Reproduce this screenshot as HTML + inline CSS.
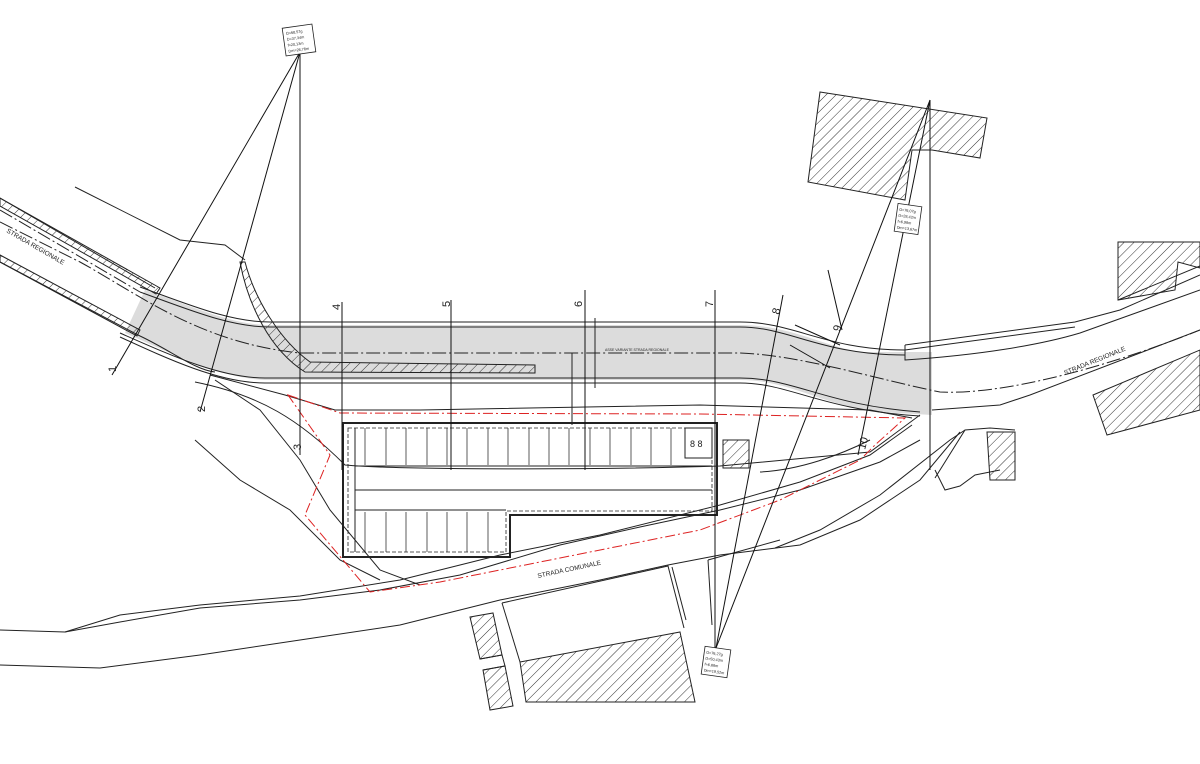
<!DOCTYPE html>
<html><head><meta charset="utf-8"><style>
html,body{margin:0;padding:0;background:#fff;}
svg{display:block;}
text{font-family:"Liberation Sans",sans-serif;fill:#222;}
</style></head><body>
<svg width="1200" height="764" viewBox="0 0 1200 764" xmlns="http://www.w3.org/2000/svg">
<defs>
<pattern id="h" patternUnits="userSpaceOnUse" width="7" height="7" patternTransform="rotate(45)">
<line x1="0" y1="0" x2="0" y2="7" stroke="#333" stroke-width="1"/>
</pattern>
</defs>
<rect width="1200" height="764" fill="#fff"/>

<path d="M145,290 C190,305 230,325 270,325 L740,325 C790,325 820,345 860,352 L932,352 L932,415 L880,412 C820,405 790,380 740,380 L265,380 C220,378 175,355 125,333 Z" fill="#dcdcdc" stroke="none"/>
<g fill="none" stroke="#222" stroke-width="1">
<path d="M140,287 C190,305 230,322 270,322 L740,322 C795,322 825,350 905,350"/>
<path d="M140,292 C190,310 230,327 270,327 L740,327 C790,327 820,355 905,355"/>
<path d="M120,333 C170,355 220,378 265,378 L740,378 C795,378 825,405 920,412"/>
<path d="M120,337 C170,360 220,383 265,383 L740,383 C790,383 820,410 920,416"/>
<path d="M0,210 L140,292" stroke-dasharray="14,3,2,3"/>
<path d="M0,222 L80,262 C140,295 200,343 300,353 L740,353 C800,355 880,380 940,392 C1000,395 1100,370 1200,330" stroke-dasharray="14,3,2,3"/>
<line x1="572" y1="353" x2="572" y2="425"/>
<line x1="595" y1="318" x2="595" y2="388"/>
<path d="M75,187 L180,240 L225,245 L245,260"/>
<path d="M0,198 L155,288"/>
<path d="M0,262 L140,336 C170,350 195,370 215,372"/>
<path d="M210,375 L285,395 L335,410 L420,410 L700,405 L870,410 L912,418"/>
<path d="M215,380 L260,410 L300,460 L330,510 L380,570 L420,585"/>
<path d="M195,440 L240,480 L290,510 L340,560 L380,580"/>
<path d="M195,382 C260,395 300,420 345,465 C400,470 600,470 720,466 L870,452 L920,415"/>
<path d="M760,472 C800,470 840,455 870,440"/>
<path d="M905,345 L1075,322 L1120,310 L1200,275"/>
<path d="M905,350 L1075,327"/>
<path d="M905,345 L905,360 C980,355 1040,345 1080,333 L1200,290"/>
<path d="M1118,300 L1200,266"/>
<path d="M932,410 L1000,405 L1030,395 L1200,330"/>
<path d="M935,478 L965,430 L990,428 L1015,430"/>
<path d="M935,470 L945,490 L960,486 L975,475 L1000,470"/>
<path d="M0,630 L65,632 L120,622 L200,608 L300,600 L380,590 L460,575 L560,545 L640,527 L720,510 L800,490 L880,462 L920,440"/>
<path d="M65,632 L120,615 L200,605 L300,596 L400,580 L500,555 L600,535 L720,505 L800,482 L870,455 L912,425"/>
<path d="M0,665 L100,668 L200,655 L300,640 L400,625 L500,600 L600,580 L668,565 L720,555 L800,545 L860,520 L920,480 L960,432"/>
<path d="M775,548 L820,530 L880,495 L950,440 L965,430"/>
<path d="M708,560 L712,625"/>
<path d="M708,560 L780,540"/>
</g>

<path d="M0,198 L160,288 L156,294 L0,206 Z" fill="url(#h)" stroke="#222" stroke-width="1"/>
<path d="M0,255 L140,330 L137,336 L0,262 Z" fill="url(#h)" stroke="#222" stroke-width="1"/>
<path d="M245,262 C255,300 280,340 310,362 L535,365 L535,373 L305,372 C270,350 248,305 240,262 Z" fill="url(#h)" stroke="#222" stroke-width="1"/>

<g fill="url(#h)" stroke="#222" stroke-width="1">
<path d="M820,92 L987,118 L980,158 L932,150 L912,150 L905,200 L808,182 Z"/>
<path d="M1118,242 L1200,242 L1200,268 L1178,262 L1175,290 L1118,300 Z"/>
<path d="M1093,395 L1200,350 L1200,410 L1107,435 Z"/>
<path d="M987,432 L1015,432 L1015,480 L990,480 Z"/>
<path d="M470,617 L493,613 L502,655 L480,659 Z"/>
<path d="M483,670 L505,666 L513,706 L490,710 Z"/>
<path d="M520,662 L680,632 L695,702 L526,702 Z"/>
</g>
<g fill="none" stroke="#222" stroke-width="1">
<path d="M480,659 L502,655 L505,666 L483,670"/>
<path d="M502,603 L668,566 L684,628"/>
<path d="M502,603 L520,662"/>
<path d="M672,567 L686,620"/>
</g>

<g fill="none" stroke="#222">
<path d="M343,423 L717,423 L717,515 L510,515 L510,557 L343,557 Z" stroke-width="2"/>
<path d="M348,428 L712,428 L712,511 L506,511 L506,552 L348,552 Z" stroke-width="0.8" stroke-dasharray="4,2"/>
<line x1="355" y1="466" x2="712" y2="466" stroke-width="1"/>
<line x1="355" y1="490" x2="712" y2="490" stroke-width="1"/>
<line x1="355" y1="510" x2="506" y2="510" stroke-width="1"/>
<line x1="355" y1="428" x2="355" y2="552" stroke-width="1"/>
</g>
<g stroke="#333" stroke-width="0.8">
<line x1="365" y1="428" x2="365" y2="465"/><line x1="386" y1="428" x2="386" y2="465"/><line x1="406" y1="428" x2="406" y2="465"/><line x1="427" y1="428" x2="427" y2="465"/><line x1="447" y1="428" x2="447" y2="465"/><line x1="467" y1="428" x2="467" y2="465"/><line x1="488" y1="428" x2="488" y2="465"/><line x1="508" y1="428" x2="508" y2="465"/><line x1="529" y1="428" x2="529" y2="465"/><line x1="549" y1="428" x2="549" y2="465"/><line x1="569" y1="428" x2="569" y2="465"/><line x1="590" y1="428" x2="590" y2="465"/><line x1="610" y1="428" x2="610" y2="465"/><line x1="631" y1="428" x2="631" y2="465"/><line x1="651" y1="428" x2="651" y2="465"/><line x1="671" y1="428" x2="671" y2="465"/>
<line x1="365" y1="512" x2="365" y2="552"/><line x1="386" y1="512" x2="386" y2="552"/><line x1="406" y1="512" x2="406" y2="552"/><line x1="427" y1="512" x2="427" y2="552"/><line x1="447" y1="512" x2="447" y2="552"/><line x1="467" y1="512" x2="467" y2="552"/><line x1="488" y1="512" x2="488" y2="552"/>
</g>
<rect x="685" y="428" width="27" height="30" fill="none" stroke="#222"/>
<text x="690" y="447" font-size="9">8 8</text>
<rect x="723" y="440" width="26" height="28" fill="url(#h)" stroke="#222"/>

<path d="M288,395 L340,413 L700,414 L905,418 L875,445 L860,460 L780,500 L700,530 L560,558 L440,582 L370,592 L305,515 L330,455 Z" fill="none" stroke="#d22" stroke-width="1" stroke-dasharray="10,3,2,3"/>

<g stroke="#111" stroke-width="1" fill="none">
<line x1="300" y1="52" x2="112" y2="375"/>
<line x1="300" y1="52" x2="200" y2="412"/>
<line x1="300" y1="52" x2="300" y2="455"/>
<line x1="342" y1="302" x2="342" y2="470"/>
<line x1="451" y1="300" x2="451" y2="470"/>
<line x1="585" y1="290" x2="585" y2="470"/>
<line x1="715" y1="290" x2="715" y2="648"/>
<line x1="783" y1="295" x2="716" y2="648"/>
<line x1="930" y1="100" x2="716" y2="648"/>
<line x1="930" y1="100" x2="858" y2="455"/>
<line x1="930" y1="100" x2="930" y2="470"/>
<line x1="828" y1="270" x2="842" y2="330"/>
<line x1="795" y1="325" x2="840" y2="345"/>
<line x1="790" y1="345" x2="830" y2="368"/>
</g>
<g font-size="11">
<text transform="translate(116,372) rotate(-90)">1</text>
<text transform="translate(205,412) rotate(-90)">2</text>
<text transform="translate(301,450) rotate(-90)">3</text>
<text transform="translate(340,310) rotate(-90)">4</text>
<text transform="translate(450,307) rotate(-90)">5</text>
<text transform="translate(582,307) rotate(-90)">6</text>
<text transform="translate(713,307) rotate(-90)">7</text>
<text transform="translate(779,315) rotate(-75)">8</text>
<text transform="translate(840,332) rotate(-75)">9</text>
<text transform="translate(865,450) rotate(-75)">10</text>
</g>
<g font-size="6.5">
<text transform="translate(6,232) rotate(30)">STRADA REGIONALE</text>
<text transform="translate(1065,375) rotate(-22)">STRADA REGIONALE</text>
<text transform="translate(538,578) rotate(-12)">STRADA COMUNALE</text>
<text x="605" y="351" font-size="3.5">ASSE VARIANTE STRADA REGIONALE</text>
</g>
<g fill="#fff" stroke="#222" stroke-width="0.8">
<rect x="284" y="26" width="30" height="28" transform="rotate(-8 299 40)"/>
<rect x="896" y="205" width="24" height="28" transform="rotate(8 908 219)"/>
<rect x="703" y="648" width="26" height="28" transform="rotate(8 716 662)"/>
</g>
<g font-size="3.8">
<text x="287" y="33" transform="rotate(-8 299 40)">Ω=68,57g</text><text x="287" y="39" transform="rotate(-8 299 40)">D=37,34m</text><text x="287" y="45" transform="rotate(-8 299 40)">f=20,13m</text><text x="287" y="51" transform="rotate(-8 299 40)">Dm=28,78m</text>
<text x="898" y="212" transform="rotate(8 908 219)">Ω=76,07g</text><text x="898" y="218" transform="rotate(8 908 219)">D=28,42m</text><text x="898" y="224" transform="rotate(8 908 219)">f=6,98m</text><text x="898" y="230" transform="rotate(8 908 219)">Dm=13,67m</text>
<text x="705" y="655" transform="rotate(8 716 662)">Ω=76,27g</text><text x="705" y="661" transform="rotate(8 716 662)">D=50,43m</text><text x="705" y="667" transform="rotate(8 716 662)">f=6,88m</text><text x="705" y="673" transform="rotate(8 716 662)">Dm=19,52m</text>
</g>
</svg>
</body></html>
